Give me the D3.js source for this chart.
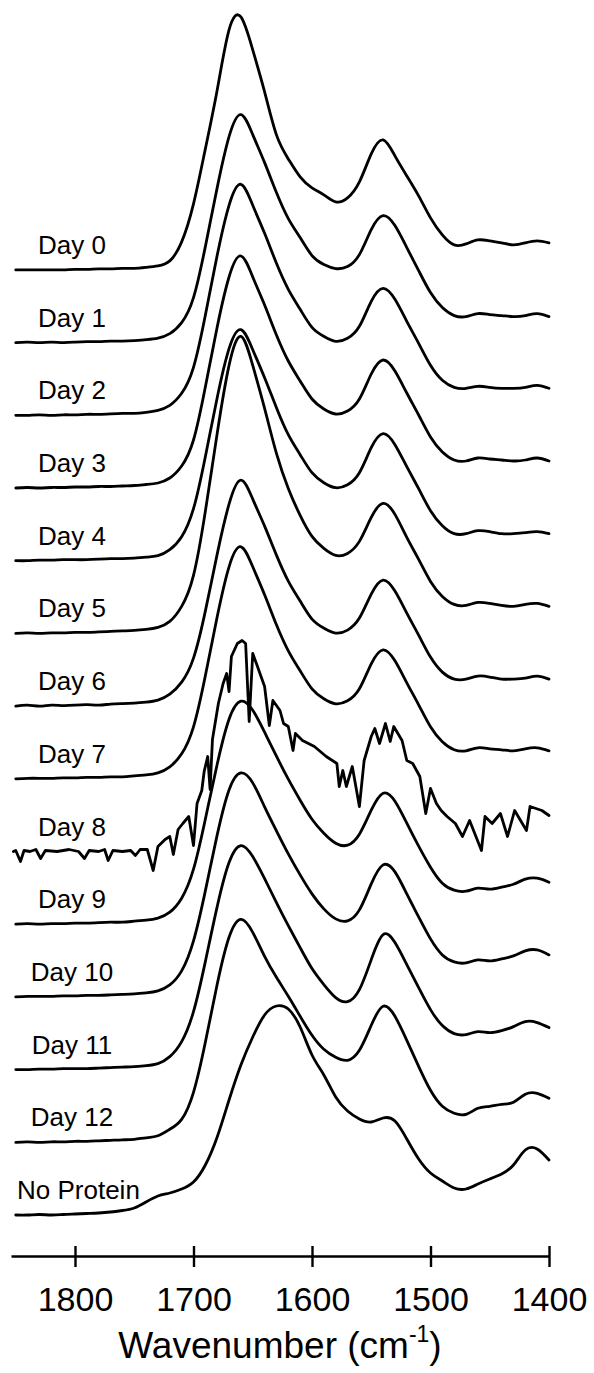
<!DOCTYPE html>
<html>
<head>
<meta charset="utf-8">
<script src="https://cdn.jsdelivr.net/npm/d3@7"></script>
<style>
  body { margin: 0; background: #fff; }
  svg { display: block; }
  text { font-family: Arial, "Liberation Sans", sans-serif; fill: #000; }
</style>
</head>
<body>
<svg id="chart" width="594" height="1373"></svg>
<script>
// Sampling grid (cm-1) shared by the smooth spectra
const wavenumbers = [1850, 1840, 1830, 1820, 1810, 1800, 1790, 1780, 1770, 1760,
  1750, 1740, 1730, 1720, 1710, 1700, 1690, 1680, 1670, 1660,
  1650, 1640, 1630, 1620, 1610, 1600, 1590, 1580, 1570, 1560,
  1550, 1540, 1530, 1520, 1510, 1500, 1490, 1480, 1470, 1460,
  1450, 1440, 1430, 1420, 1410, 1400];

// Absorbance (arbitrary units, baseline-corrected) for each sample
const absDay0 = [0, 0, 0, 0, 0, 0.5, 0.5, 1, 1, 1.5,
  1.5, 2.5, 4, 9, 28, 66, 121, 180, 240, 253,
  220, 178, 135, 111, 93, 82, 75, 68, 72, 88,
  116, 130, 114, 94, 74, 52, 35, 25, 26, 30,
  29, 27, 25, 27, 29, 27];
const absDay1 = [0, 0.5, 0, 0.5, 0, 0.5, 1, 1, 1.5, 1.5,
  2, 3, 4.5, 9, 20, 45, 96, 155, 206, 228,
  208, 180, 150, 124, 105, 87, 78, 74, 76, 88,
  113, 127, 117, 95, 72, 50, 35, 27, 26, 29,
  28, 27, 26, 27, 29, 26];
const absDay2 = [0, 0, 0.5, 0, 0.5, 0.5, 1, 1, 1.5, 2,
  2, 3, 5, 10, 22, 48, 100, 160, 210, 231,
  210, 182, 152, 126, 106, 88, 79, 74, 77, 89,
  114, 127, 116, 94, 72, 50, 35, 28, 27, 29,
  28, 27, 27, 28, 30, 27];
const absDay3 = [0, 0.5, 0, 0.5, 0.5, 1, 1, 1.5, 1.5, 2,
  2.5, 3.5, 5, 10, 22, 48, 101, 161, 211, 232,
  211, 183, 153, 127, 107, 89, 79, 74, 77, 89,
  114, 128, 117, 95, 73, 51, 36, 28, 27, 30,
  29, 28, 27, 28, 30, 27];
const absDay4 = [0, 0, 0.5, 0.5, 1, 1, 1, 1.5, 2, 2,
  2.5, 3.5, 5, 11, 24, 52, 104, 163, 212, 231,
  211, 183, 153, 126, 106, 88, 78, 73, 76, 88,
  113, 127, 116, 94, 72, 50, 35, 27, 27, 30,
  29, 27, 27, 28, 29, 27];
const absDay5 = [0, 0.5, 0, 0.5, 0.5, 1, 1, 1.5, 2, 2.5,
  3, 4, 6, 12, 27, 58, 122, 200, 268, 297,
  268, 225, 180, 145, 118, 97, 85, 78, 80, 92,
  116, 130, 119, 96, 74, 52, 37, 29, 28, 31,
  30, 28, 27, 29, 30, 27];
const absDay6 = [0, 1, 0, 1, 0.5, 1, 1.5, 1, 2, 2.5,
  3, 4, 6, 12, 24, 48, 95, 152, 202, 226,
  207, 180, 151, 125, 105, 87, 78, 73, 76, 88,
  112, 126, 115, 93, 71, 49, 34, 27, 27, 30,
  29, 27, 27, 28, 30, 27];
const absDay7 = [0, 0.5, 0.5, 0.5, 1, 1, 1.5, 1.5, 2, 2,
  3, 4, 6, 12, 25, 52, 103, 162, 212, 232,
  212, 184, 154, 128, 108, 90, 80, 75, 78, 90,
  115, 129, 118, 96, 74, 52, 37, 29, 28, 31,
  30, 29, 28, 30, 31, 28];
const absDay9 = [0, 0.5, 0, 0.5, 0.5, 1, 1, 1.5, 2, 2,
  3, 4, 6, 12, 26, 55, 105, 160, 205, 223,
  214, 192, 168, 145, 124, 105, 91, 81, 79, 90,
  114, 131, 123, 101, 78, 57, 41, 34, 33, 36,
  35, 37, 40, 45, 46, 42];
const absDay10 = [0, 0.5, 0.5, 0.5, 1, 1, 1.5, 1.5, 2, 2.5,
  3, 4, 6, 12, 26, 56, 106, 162, 207, 224,
  214, 190, 166, 143, 122, 103, 88, 78, 76, 87,
  113, 132, 125, 103, 80, 58, 42, 35, 34, 37,
  36, 38, 41, 46, 47, 42];
const absDay11 = [0, 0, 0.5, 0.5, 1, 1, 1, 1.5, 2, 2.5,
  3, 4, 6, 13, 28, 58, 108, 163, 207, 224,
  213, 191, 167, 144, 122, 101, 85, 72, 68, 80,
  110, 135, 127, 105, 82, 60, 44, 36, 35, 38,
  37, 39, 43, 48, 47, 42];
const absDay12 = [0, 0.5, 0, 0.5, 0.5, 1, 1, 1.5, 2, 2.5,
  3, 4.5, 6.5, 13, 23, 50, 100, 158, 205, 223,
  210, 186, 165, 146, 126, 107, 93, 85, 82, 92,
  117, 136, 126, 102, 76, 52, 36, 29, 28, 34,
  36, 38, 40, 48, 49, 44];
const absNoProtein = [0, 0, 0.5, 0, 0.5, 1, 1.5, 2, 3, 4.5,
  7, 13, 19, 22, 26, 33, 50, 78, 115, 150,
  178, 200, 209, 206, 188, 160, 140, 118, 104, 96,
  93, 97, 94, 76, 56, 42, 34, 27, 26, 31,
  36, 41, 50, 65, 66, 55];

// Day 8 carries sharp water-vapour lines, so it is sampled on its own finer grid
const day8Wavenumbers = [1852, 1850, 1846, 1843, 1838, 1833, 1829, 1825, 1815, 1805,
  1797, 1792, 1788, 1780, 1775, 1772, 1768, 1760, 1753, 1749,
  1745, 1739, 1734, 1730, 1724, 1720, 1717, 1713, 1709, 1704,
  1700, 1697, 1693, 1691, 1688, 1686, 1684, 1679, 1675, 1672,
  1670, 1668, 1663, 1659, 1656, 1653, 1650, 1646, 1643, 1640,
  1636, 1633, 1627, 1624, 1620, 1616, 1614, 1608, 1598, 1588,
  1579, 1577, 1574, 1571, 1566, 1560, 1556, 1550, 1547, 1543,
  1538, 1534, 1531, 1524, 1520, 1515, 1509, 1504, 1500, 1495,
  1491, 1486, 1479, 1473, 1467, 1457, 1454, 1448, 1441, 1435,
  1429, 1419, 1416, 1406, 1400];
const absDay8 = [0, 1, -10, 1, 0, 2, -7, 1, 0, 2,
  0, -7, 1, 0, 2, -9, 1, 0, 1, -4,
  2, 2, -19, 5, 12, 15, -3, 22, 28, 35,
  6, 48, 61, 80, 95, 62, 112, 148, 168, 178,
  160, 195, 208, 211, 208, 130, 198, 185, 175, 165,
  126, 151, 141, 128, 125, 101, 118, 111, 105, 95,
  88, 65, 81, 65, 85, 45, 91, 115, 123, 108,
  128, 110, 125, 111, 91, 88, 75, 38, 63, 48,
  41, 35, 28, 15, 31, 1, 35, 28, 38, 15,
  41, 21, 45, 41, 36];

const sampleLabels = ["Day 0", "Day 1", "Day 2", "Day 3", "Day 4", "Day 5", "Day 6",
  "Day 7", "Day 8", "Day 9", "Day 10", "Day 11", "Day 12", "No Protein"];

const tickValues = [1800, 1700, 1600, 1500, 1400];

// Assemble spectra top to bottom
const spectra = [
  { label: sampleLabels[0], wn: wavenumbers, abs: absDay0 },
  { label: sampleLabels[1], wn: wavenumbers, abs: absDay1 },
  { label: sampleLabels[2], wn: wavenumbers, abs: absDay2 },
  { label: sampleLabels[3], wn: wavenumbers, abs: absDay3 },
  { label: sampleLabels[4], wn: wavenumbers, abs: absDay4 },
  { label: sampleLabels[5], wn: wavenumbers, abs: absDay5 },
  { label: sampleLabels[6], wn: wavenumbers, abs: absDay6 },
  { label: sampleLabels[7], wn: wavenumbers, abs: absDay7 },
  { label: sampleLabels[8], wn: day8Wavenumbers, abs: absDay8, noisy: true },
  { label: sampleLabels[9], wn: wavenumbers, abs: absDay9 },
  { label: sampleLabels[10], wn: wavenumbers, abs: absDay10 },
  { label: sampleLabels[11], wn: wavenumbers, abs: absDay11 },
  { label: sampleLabels[12], wn: wavenumbers, abs: absDay12 },
  { label: sampleLabels[13], wn: wavenumbers, abs: absNoProtein }
];

const stackStep = 72.7;        // vertical offset between neighbouring spectra
const n = spectra.length;

const svg = d3.select("#chart");

const x = d3.scaleLinear().domain([1854, 1400]).range([11, 549]);
const y = d3.scaleLinear().domain([0, 1000]).range([1215, 215]);

const smoothLine = d3.line()
  .x(d => x(d[0]))
  .y(d => y(d[1]))
  .curve(d3.curveNatural);
const rawLine = d3.line()
  .x(d => x(d[0]))
  .y(d => y(d[1]))
  .curve(d3.curveLinear);

const traces = svg.append("g").attr("class", "spectra");

spectra.forEach((s, i) => {
  const offset = (n - 1 - i) * stackStep;
  const pts = s.wn.map((w, k) => [w, s.abs[k] + offset]);
  traces.append("path")
    .attr("d", (s.noisy ? rawLine : smoothLine)(pts))
    .attr("fill", "none")
    .attr("stroke", "#000")
    .attr("stroke-width", 2.8)
    .attr("stroke-linejoin", "round")
    .attr("stroke-linecap", "round");

  // Sample name centred over the flat baseline, kept clear of the left edge
  const label = traces.append("text")
    .attr("y", y(offset) - 16)
    .attr("font-size", 26)
    .text(s.label);
  const w = label.node().getComputedTextLength();
  label.attr("x", Math.max(17, 72 - w / 2));
});

// Wavenumber axis with ticks crossing the axis line
const axis = d3.axisBottom(x).tickValues(tickValues).tickSizeOuter(0).tickFormat(d3.format("d"));
const gAxis = svg.append("g").attr("transform", "translate(0,1256)").call(axis);
gAxis.select(".domain").attr("stroke", "#000").attr("stroke-width", 2.4);
gAxis.selectAll(".tick line").attr("y1", -10).attr("y2", 11)
  .attr("stroke", "#000").attr("stroke-width", 2.4);
gAxis.selectAll(".tick text")
  .attr("y", 55).attr("dy", 0)
  .attr("font-size", 34)
  .attr("font-family", "Arial, 'Liberation Sans', sans-serif")
  .attr("fill", "#000");

// Axis title with superscript
const title = svg.append("text")
  .attr("x", 280)
  .attr("y", 1358)
  .attr("text-anchor", "middle")
  .attr("font-size", 37);
title.append("tspan").text("Wavenumber (cm");
title.append("tspan").attr("font-size", 23).attr("dy", -16).text("-1");
title.append("tspan").attr("dy", 16).text(")");
</script>
</body>
</html>
